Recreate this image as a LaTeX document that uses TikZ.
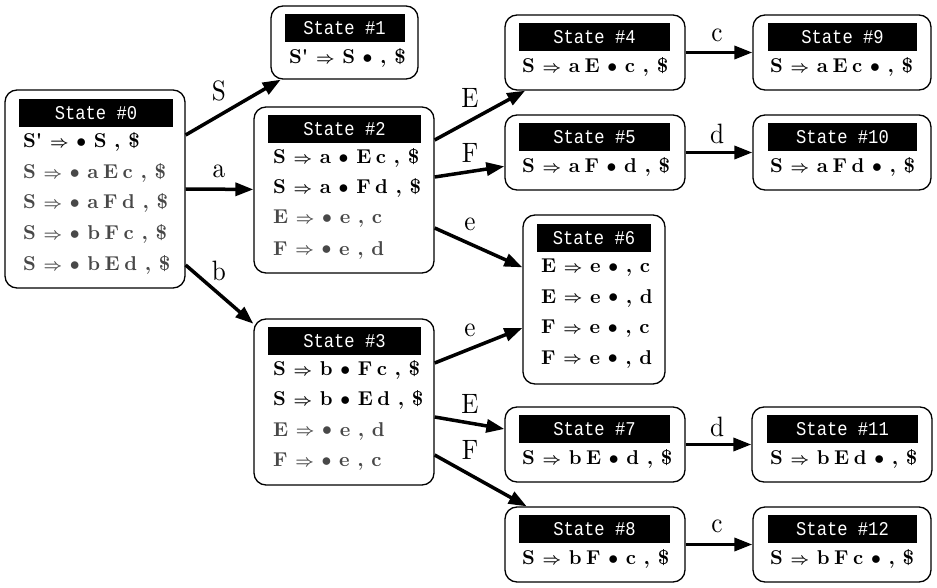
\documentclass[tikz,border=0pt]{standalone}
\usepackage{fontspec}
\newfontfamily\hdrmono{Liberation Mono}
\newfontfamily\lmten{lmroman10-regular.otf}[BoldFont=lmroman10-bold.otf]
\usetikzlibrary{arrows.meta}
\definecolor{itemgray}{RGB}{72,72,72}
\newcommand{\sqz}[1]{\scalebox{0.88}[1]{#1}}
\newcommand{\lsq}[1]{\scalebox{0.9}[1]{#1}}
\newcommand{\RA}{\raisebox{0.2pt}{\scalebox{0.78}{\boldmath$\Rightarrow$}}}
\newcommand{\BU}{\raisebox{0.3pt}{\scalebox{0.95}{$\bullet$}}}
\newcommand{\ns}{\hspace{4.5pt}}
\tikzset{
  stbox/.style={draw=black, line width=1.3pt, rounded corners=12pt, inner sep=0pt, fill=white},
  hdr/.style={fill=black, text=white, inner sep=0pt, minimum height=28pt, font=\hdrmono\fontsize{19.5}{22}\selectfont},
  item/.style={anchor=west, inner sep=0pt, font=\lmten\fontsize{20}{24}\selectfont\bfseries},
  gitem/.style={item, text=itemgray},
  elab/.style={inner sep=0pt, font=\lmten\fontsize{28}{30}\selectfont},
  edge/.style={line width=3.5pt, -{Triangle[length=18pt,width=13pt]}}
}
\begin{document}
\begin{tikzpicture}[x=1pt,y=-1pt]
\useasboundingbox (0,0) rectangle (937,588);
% ---------- boxes ----------
\node[stbox, minimum width=180pt, minimum height=198pt] (s0) at (95,189) {};
\node[stbox, minimum width=147pt, minimum height=73pt]  (s1) at (344.5,42.5) {};
\node[stbox, minimum width=180pt, minimum height=166pt] (s2) at (344,190) {};
\node[stbox, minimum width=180pt, minimum height=166pt] (s3) at (344,402) {};
\node[stbox, minimum width=180pt, minimum height=75pt]  (s4) at (595,52.5) {};
\node[stbox, minimum width=180pt, minimum height=75pt]  (s5) at (595,152.5) {};
\node[stbox, minimum width=142pt, minimum height=169pt] (s6) at (594,299.5) {};
\node[stbox, minimum width=180pt, minimum height=75pt]  (s7) at (595,444.5) {};
\node[stbox, minimum width=180pt, minimum height=75pt]  (s8) at (595,544.5) {};
\node[stbox, minimum width=178pt, minimum height=75pt]  (s9) at (842,52.5) {};
\node[stbox, minimum width=178pt, minimum height=75pt]  (s10) at (842,152.5) {};
\node[stbox, minimum width=180pt, minimum height=75pt]  (s11) at (842,444.5) {};
\node[stbox, minimum width=178pt, minimum height=75pt]  (s12) at (842,544.5) {};
% ---------- headers ----------
\node[hdr, minimum width=154pt] (h0) at (96,113) {\sqz{State \#0}};
\node[hdr, minimum width=120pt] (h1) at (344.5,28) {\sqz{State \#1}};
\node[hdr, minimum width=153pt] (h2) at (344.5,129) {\sqz{State \#2}};
\node[hdr, minimum width=153pt] (h3) at (344.5,341) {\sqz{State \#3}};
\node[hdr, minimum width=151pt] (h4) at (594.5,37) {\sqz{State \#4}};
\node[hdr, minimum width=151pt] (h5) at (594.5,137) {\sqz{State \#5}};
\node[hdr, minimum width=114pt] (h6) at (594,238) {\sqz{State \#6}};
\node[hdr, minimum width=151pt] (h7) at (594.5,429) {\sqz{State \#7}};
\node[hdr, minimum width=151pt] (h8) at (594.5,529) {\sqz{State \#8}};
\node[hdr, minimum width=149pt] (h9) at (842.5,37) {\sqz{State \#9}};
\node[hdr, minimum width=149pt] (h10) at (842.5,137) {\sqz{State \#10}};
\node[hdr, minimum width=151pt] (h11) at (842.5,429) {\sqz{State \#11}};
\node[hdr, minimum width=149pt] (h12) at (842.5,529) {\sqz{State \#12}};
% ---------- items ----------
\node[item]  (r0a) at (23,142) {S\textquotesingle{} \RA{} \BU{} S , \$};
\node[gitem] (r0b) at (23,173) {S \RA{} \BU{} a\ns E\ns c , \$};
\node[gitem] (r0c) at (23,203) {S \RA{} \BU{} a\ns F\ns d , \$};
\node[gitem] (r0d) at (23,234) {S \RA{} \BU{} b\ns F\ns c , \$};
\node[gitem] (r0e) at (23,265) {S \RA{} \BU{} b\ns E\ns d , \$};
\node[item]  (r1a) at (289,58) {S\textquotesingle{} \RA{} S \BU{} , \$};
\node[item]  (r2a) at (273,158) {S \RA{} a \BU{} E\ns c , \$};
\node[item]  (r2b) at (273,188) {S \RA{} a \BU{} F\ns d , \$};
\node[gitem] (r2c) at (273,219) {E \RA{} \BU{} e , c};
\node[gitem] (r2d) at (273,250) {F \RA{} \BU{} e , d};
\node[item]  (r3a) at (273,370) {S \RA{} b \BU{} F\ns c , \$};
\node[item]  (r3b) at (273,400) {S \RA{} b \BU{} E\ns d , \$};
\node[gitem] (r3c) at (273,431) {E \RA{} \BU{} e , d};
\node[gitem] (r3d) at (273,462) {F \RA{} \BU{} e , c};
\node[item]  (r4a) at (522,67) {S \RA{} a\ns E \BU{} c , \$};
\node[item]  (r5a) at (522,167) {S \RA{} a\ns F \BU{} d , \$};
\node[item]  (r6a) at (541,268) {E \RA{} e \BU{} , c};
\node[item]  (r6b) at (541,298) {E \RA{} e \BU{} , d};
\node[item]  (r6c) at (541,329) {F \RA{} e \BU{} , c};
\node[item]  (r6d) at (541,359) {F \RA{} e \BU{} , d};
\node[item]  (r7a) at (522,459) {S \RA{} b\ns E \BU{} d , \$};
\node[item]  (r8a) at (522,559) {S \RA{} b\ns F \BU{} c , \$};
\node[item]  (r9a) at (770,67) {S \RA{} a\ns E\ns c \BU{} , \$};
\node[item]  (r10a) at (770,167) {S \RA{} a\ns F\ns d \BU{} , \$};
\node[item]  (r11a) at (770,459) {S \RA{} b\ns E\ns d \BU{} , \$};
\node[item]  (r12a) at (770,559) {S \RA{} b\ns F\ns c \BU{} , \$};
% ---------- edges ----------
\draw[edge] ([yshift=54pt]s0.east) -- (s1);
\draw[edge] (s0.east) -- (s2);
\draw[edge] ([yshift=-76pt]s0.east) -- (s3);
\draw[edge] ([yshift=50pt]s2.east) -- (s4);
\draw[edge] ([yshift=13pt]s2.east) -- (s5);
\draw[edge] ([yshift=-38pt]s2.east) -- (s6);
\draw[edge] ([yshift=39pt]s3.east) -- (s6);
\draw[edge] ([yshift=-15pt]s3.east) -- (s7);
\draw[edge] ([yshift=-53pt]s3.east) -- (s8);
\draw[edge] (s4.east) -- (s9.west);
\draw[edge] (s5.east) -- (s10.west);
\draw[edge] (s7.east) -- (s11.west);
\draw[edge] (s8.east) -- (s12.west);
% ---------- edge labels ----------
\node[elab] (l01) at (219,91) {\lsq{S}};
\node[elab] (l02) at (219,171) {\lsq{a}};
\node[elab] (l03) at (219,271) {\lsq{b}};
\node[elab] (l24) at (470,98) {\lsq{E}};
\node[elab] (l25) at (470,153) {\lsq{F}};
\node[elab] (l26) at (470,224) {\lsq{e}};
\node[elab] (l36) at (470,330) {\lsq{e}};
\node[elab] (l37) at (470,404) {\lsq{E}};
\node[elab] (l38) at (470,450) {\lsq{F}};
\node[elab] (l49) at (717,35) {\lsq{c}};
\node[elab] (l510) at (717,134) {\lsq{d}};
\node[elab] (l711) at (717,427) {\lsq{d}};
\node[elab] (l812) at (717,526) {\lsq{c}};
\end{tikzpicture}
\end{document}
